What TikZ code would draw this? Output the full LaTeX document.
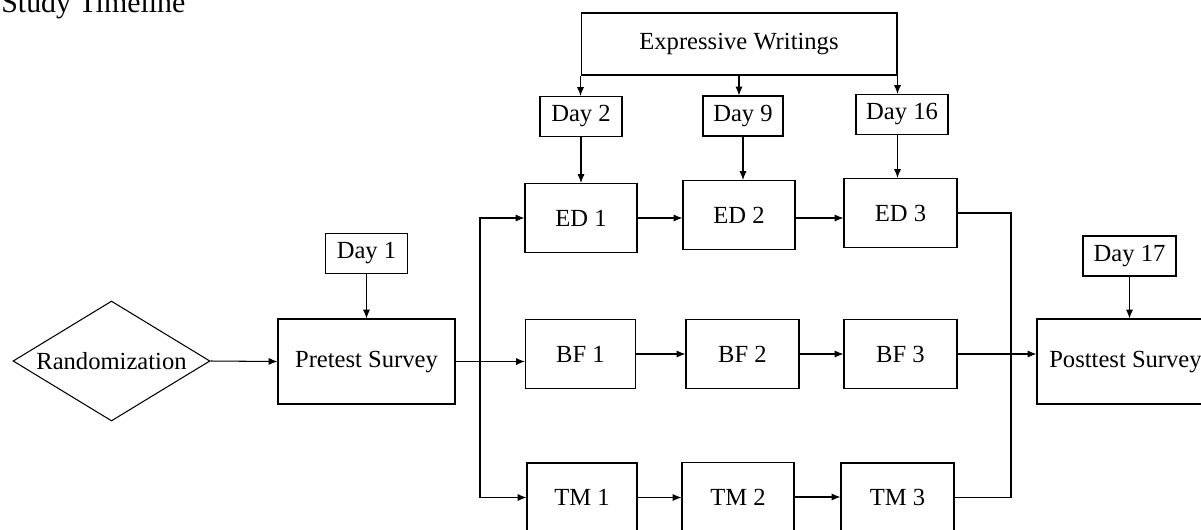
\documentclass[tikz,border=0pt]{standalone}
\usepackage{fontspec}
\setmainfont{Liberation Serif}
\usepackage{tikz}
\usetikzlibrary{positioning, shapes.geometric, arrows.meta, calc}

\begin{document}
\begin{tikzpicture}[
  x=0.02cm, y=-0.02cm,
  every node/.style={font=\fontsize{14}{16}\selectfont},
  box/.style={draw, rectangle, line width=0.6pt, inner sep=2pt,
              minimum width=#1, minimum height=1.38cm},
  day/.style={draw, rectangle, line width=0.6pt, inner sep=2pt,
              minimum width=#1, minimum height=0.8cm},
  arr/.style={-{Latex[length=5pt, width=4pt]}, line width=0.6pt},
  line/.style={line width=0.6pt},
]
\useasboundingbox (0,0) rectangle (1201,529);

% --- title (cut at the top)
\node[anchor=base west, inner sep=0pt, font=\fontsize{17}{20}\selectfont] (title) at (1,12) {Study Timeline};

% --- start: randomization and pretest
\node[draw, diamond, line width=0.6pt, inner sep=0pt, aspect=1.64,
      minimum width=3.94cm, minimum height=2.4cm] (rand) at (111.5,361) {Randomization};
\node[box=3.54cm, minimum height=1.7cm] (pre) at (366.5,361.5) {Pretest Survey};
\node[day=1.64cm] (day1) at (366.5,253.5) {Day 1};

% --- expressive writings and days
\node[draw, rectangle, line width=0.6pt, minimum width=6.32cm, minimum height=1.24cm] (ew) at (739,44) {Expressive Writings};
\node[day=1.64cm] (day2) at (581,116.5) {Day 2};
\node[day=1.6cm] (day9) at (743,116) {Day 9};
\node[day=1.84cm] (day16) at (902,114.5) {Day 16};

% --- three arms
\node[box=2.24cm] (ed1) at (581,218) {ED 1};
\node[box=2.24cm] (ed2) at (739,215) {ED 2};
\node[box=2.26cm] (ed3) at (900.5,213) {ED 3};

\node[box=2.2cm] (bf1) at (580.5,354) {BF 1};
\node[box=2.26cm] (bf2) at (742.5,354) {BF 2};
\node[box=2.26cm] (bf3) at (900.5,354) {BF 3};

\node[box=2.2cm] (tm1) at (582,497.5) {TM 1};
\node[box=2.24cm] (tm2) at (738,497) {TM 2};
\node[box=2.26cm] (tm3) at (897.5,497.5) {TM 3};

% --- end: posttest
\node[box=3.54cm, minimum height=1.7cm] (post) at (1125.5,361.5) {Posttest Survey};
\node[day=1.86cm] (day17) at (1129.5,256) {Day 17};

% --- bus lines
\coordinate (lbus) at (480,0);
\coordinate (rbus) at (1011,0);

% --- connectors
\draw[arr] (rand.east) -- (pre.west);
\draw[arr] (day1) -- (pre);
\draw[arr] (pre.east) -- (pre.east -| bf1.west);
\draw[arr] (pre.east -| lbus) |- (ed1.west);
\draw[arr] (pre.east -| lbus) |- (tm1.west);

\draw[arr] (ew.south west) -- (ew.south west |- day2.north);
\draw[arr] (ew.south) -- (ew.south |- day9.north);
\draw[arr] (ew.south east) -- (ew.south east |- day16.north);
\draw[arr] (day2) -- (ed1);
\draw[arr] (day9.south) -- (day9.south |- ed2.north);
\draw[arr] (ew.south east |- day16.south) -- (ew.south east |- ed3.north);

\draw[arr] (ed1) -- (ed1 -| ed2.west);
\draw[arr] (ed1 -| ed2.east) -- (ed1 -| ed3.west);
\draw[arr] (bf1) -- (bf2);
\draw[arr] (bf2) -- (bf3);
\draw[arr] (tm1) -- (tm1 -| tm2.west);
\draw[arr] (tm2.east) -- (tm2.east -| tm3.west);

\draw[line] (ed3.east) -| (rbus |- tm3.east) -- (tm3.east);
\draw[arr] (bf3.east) -- (bf3.east -| post.west);
\draw[arr] (day17) -- (day17 |- post.north);

\end{tikzpicture}
\end{document}
